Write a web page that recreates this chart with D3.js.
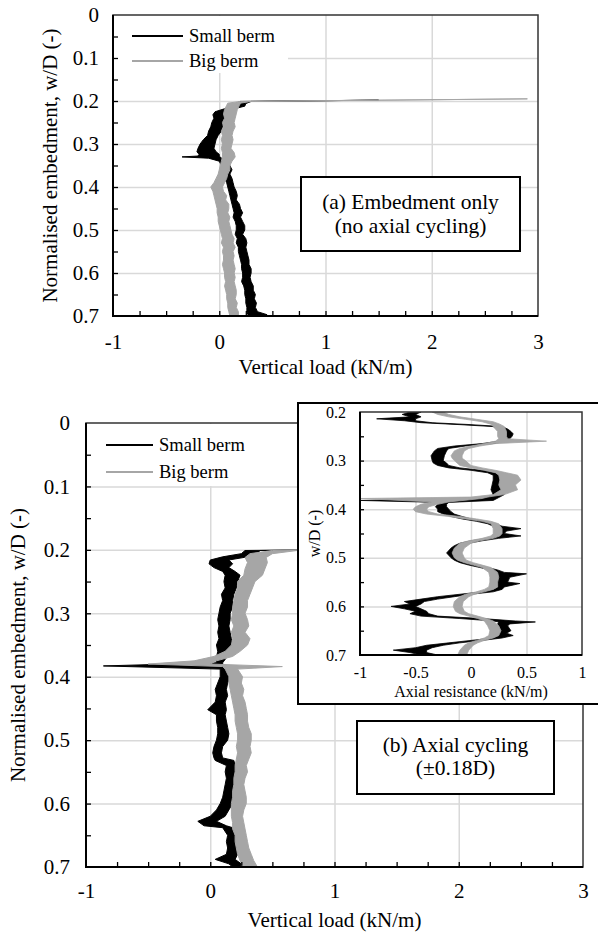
<!DOCTYPE html>
<html>
<head>
<meta charset="utf-8">
<script src="https://cdn.jsdelivr.net/npm/d3@7"></script>
<style>
  body { margin: 0; background: #fff; }
  svg, svg text { font-family: "Liberation Serif", "Times New Roman", Times, serif; }
</style>
</head>
<body>
<svg id="chart" width="598" height="936" font-family="Liberation Serif, serif"></svg>
<script>
// Each trace is a noisy band: [w/D, left edge, right edge]

// (a) Embedment only
const embedSmall = [
  [0.198, 1.5, 1.5], [0.201, 0.2, 0.3], [0.206, 0.15, 0.25], [0.212, 0.12, 0.24],
  [0.218, 0.05, 0.14], [0.225, -0.04, 0.06], [0.232, -0.06, 0.05], [0.24, -0.05, 0.08],
  [0.25, -0.07, 0.04], [0.26, -0.08, 0.03], [0.27, -0.1, 0.02], [0.28, -0.11, -0.01],
  [0.29, -0.15, -0.03], [0.30, -0.18, -0.04], [0.31, -0.2, -0.05], [0.318, -0.21, -0.03],
  [0.324, -0.19, 0.0], [0.328, -0.2, 0.0], [0.33, -0.35, 0.01], [0.333, -0.1, 0.02],
  [0.34, 0.0, 0.08], [0.35, 0.02, 0.1], [0.36, 0.03, 0.12], [0.37, 0.02, 0.1],
  [0.38, 0.05, 0.12], [0.39, 0.07, 0.13], [0.40, 0.08, 0.14], [0.41, 0.09, 0.16],
  [0.42, 0.1, 0.17], [0.43, 0.11, 0.16], [0.44, 0.12, 0.19], [0.45, 0.13, 0.2],
  [0.46, 0.14, 0.22], [0.47, 0.13, 0.2], [0.48, 0.15, 0.22], [0.49, 0.16, 0.24],
  [0.50, 0.16, 0.24], [0.51, 0.15, 0.22], [0.52, 0.17, 0.25], [0.53, 0.16, 0.26],
  [0.54, 0.18, 0.25], [0.55, 0.18, 0.26], [0.56, 0.19, 0.27], [0.57, 0.2, 0.28],
  [0.58, 0.21, 0.28], [0.59, 0.21, 0.3], [0.60, 0.22, 0.3], [0.61, 0.22, 0.29],
  [0.62, 0.21, 0.3], [0.63, 0.23, 0.32], [0.64, 0.24, 0.32], [0.65, 0.24, 0.34],
  [0.66, 0.25, 0.33], [0.67, 0.25, 0.35], [0.68, 0.26, 0.34], [0.69, 0.26, 0.36],
  [0.697, 0.27, 0.45], [0.7, 0.28, 0.34]
];
const embedBig = [
  [0.195, 2.9, 2.9], [0.201, 0.2, 0.3], [0.205, 0.08, 0.2], [0.21, 0.07, 0.19],
  [0.22, 0.05, 0.17], [0.23, 0.04, 0.16], [0.24, 0.05, 0.15], [0.25, 0.03, 0.14],
  [0.26, 0.04, 0.15], [0.27, 0.02, 0.13], [0.28, 0.03, 0.12], [0.29, 0.02, 0.13],
  [0.30, 0.03, 0.12], [0.31, 0.02, 0.11], [0.32, 0.03, 0.14], [0.33, 0.03, 0.15],
  [0.34, 0.02, 0.12], [0.35, 0.01, 0.1], [0.36, 0.0, 0.1], [0.37, -0.01, 0.08],
  [0.38, -0.03, 0.07], [0.39, -0.05, 0.05], [0.40, -0.08, 0.03], [0.41, -0.06, 0.04],
  [0.42, -0.05, 0.07], [0.43, -0.04, 0.06], [0.44, -0.03, 0.09], [0.45, -0.02, 0.09],
  [0.46, -0.02, 0.08], [0.47, -0.01, 0.1], [0.48, -0.01, 0.09], [0.49, 0.0, 0.1],
  [0.50, 0.01, 0.11], [0.51, 0.02, 0.12], [0.52, 0.03, 0.14], [0.53, 0.02, 0.13],
  [0.54, 0.04, 0.15], [0.55, 0.03, 0.13], [0.56, 0.04, 0.14], [0.57, 0.04, 0.13],
  [0.58, 0.03, 0.14], [0.59, 0.04, 0.15], [0.60, 0.05, 0.14], [0.61, 0.05, 0.15],
  [0.62, 0.06, 0.14], [0.63, 0.05, 0.15], [0.64, 0.06, 0.16], [0.65, 0.07, 0.16],
  [0.66, 0.07, 0.15], [0.67, 0.08, 0.17], [0.68, 0.08, 0.16], [0.69, 0.09, 0.18],
  [0.7, 0.1, 0.18]
];

// (b) Axial cycling - vertical load
const cycleSmall = [
  [0.199, 1.5, 1.5], [0.201, 0.28, 0.4], [0.206, 0.25, 0.38], [0.211, 0.1, 0.3],
  [0.216, 0.0, 0.15], [0.222, -0.01, 0.18], [0.228, 0.03, 0.15], [0.234, 0.1, 0.2],
  [0.24, 0.12, 0.24], [0.25, 0.11, 0.22], [0.26, 0.12, 0.21], [0.27, 0.09, 0.19],
  [0.28, 0.1, 0.18], [0.29, 0.08, 0.18], [0.30, 0.07, 0.16], [0.31, 0.06, 0.16],
  [0.32, 0.07, 0.15], [0.33, 0.06, 0.16], [0.34, 0.07, 0.17], [0.35, 0.05, 0.18],
  [0.36, 0.06, 0.14], [0.37, 0.05, 0.13], [0.378, 0.05, 0.1], [0.383, -0.86, 0.1],
  [0.388, 0.08, 0.15], [0.40, 0.08, 0.16], [0.41, 0.06, 0.14], [0.42, 0.04, 0.13],
  [0.43, 0.05, 0.14], [0.44, 0.04, 0.12], [0.452, -0.02, 0.13], [0.46, 0.05, 0.12],
  [0.47, 0.05, 0.13], [0.48, 0.06, 0.14], [0.49, 0.06, 0.15], [0.50, 0.05, 0.14],
  [0.51, 0.03, 0.1], [0.52, 0.02, 0.09], [0.528, 0.03, 0.1], [0.532, 0.04, 0.19],
  [0.54, 0.13, 0.2], [0.55, 0.12, 0.21], [0.56, 0.13, 0.2], [0.57, 0.12, 0.19],
  [0.58, 0.11, 0.2], [0.59, 0.1, 0.2], [0.60, 0.08, 0.18], [0.61, 0.05, 0.15],
  [0.62, 0.0, 0.12], [0.628, -0.1, 0.05], [0.635, -0.05, 0.13], [0.638, 0.1, 0.18],
  [0.65, 0.14, 0.2], [0.66, 0.13, 0.21], [0.67, 0.14, 0.22], [0.68, 0.13, 0.22],
  [0.688, 0.04, 0.2], [0.695, 0.15, 0.25], [0.7, 0.18, 0.24]
];
const cycleBig = [
  [0.196, 1.5, 1.5], [0.201, 0.5, 0.7], [0.206, 0.32, 0.5], [0.212, 0.28, 0.45],
  [0.22, 0.3, 0.46], [0.23, 0.28, 0.44], [0.24, 0.27, 0.42], [0.25, 0.22, 0.36],
  [0.26, 0.22, 0.34], [0.27, 0.2, 0.32], [0.28, 0.19, 0.3], [0.29, 0.18, 0.3],
  [0.30, 0.18, 0.28], [0.31, 0.17, 0.3], [0.32, 0.19, 0.31], [0.33, 0.17, 0.28],
  [0.34, 0.18, 0.32], [0.35, 0.17, 0.3], [0.36, 0.12, 0.24], [0.368, 0.03, 0.18],
  [0.375, -0.13, 0.05], [0.38, -0.5, 0.0], [0.384, 0.1, 0.58], [0.388, 0.12, 0.22],
  [0.40, 0.15, 0.26], [0.41, 0.15, 0.25], [0.42, 0.16, 0.27], [0.43, 0.17, 0.26],
  [0.44, 0.18, 0.28], [0.45, 0.19, 0.29], [0.46, 0.2, 0.3], [0.47, 0.2, 0.3],
  [0.48, 0.21, 0.31], [0.49, 0.22, 0.33], [0.50, 0.22, 0.33], [0.51, 0.21, 0.32],
  [0.52, 0.22, 0.33], [0.53, 0.21, 0.31], [0.54, 0.2, 0.29], [0.55, 0.2, 0.3],
  [0.56, 0.19, 0.28], [0.57, 0.19, 0.27], [0.58, 0.18, 0.28], [0.59, 0.18, 0.29],
  [0.60, 0.17, 0.29], [0.61, 0.17, 0.27], [0.62, 0.17, 0.26], [0.63, 0.18, 0.27],
  [0.64, 0.18, 0.28], [0.65, 0.2, 0.29], [0.66, 0.2, 0.3], [0.67, 0.21, 0.31],
  [0.68, 0.22, 0.33], [0.69, 0.24, 0.35], [0.7, 0.27, 0.38]
];

// (b) inset - axial resistance
const axialSmall = [
  [0.2, -0.55, -0.45], [0.205, -0.62, -0.5], [0.21, -0.55, -0.45], [0.214, -0.85, -0.5],
  [0.218, -0.6, -0.5], [0.222, -0.45, -0.35], [0.226, -0.1, 0.0], [0.23, 0.2, 0.28],
  [0.235, 0.25, 0.33], [0.24, 0.26, 0.36], [0.245, 0.27, 0.38], [0.25, 0.28, 0.37],
  [0.255, 0.26, 0.35], [0.26, 0.25, 0.33], [0.265, 0.1, 0.2], [0.27, -0.15, -0.05],
  [0.275, -0.3, -0.2], [0.28, -0.33, -0.22], [0.29, -0.36, -0.24], [0.3, -0.35, -0.25],
  [0.305, -0.34, -0.22], [0.31, -0.3, -0.2], [0.315, -0.2, -0.1], [0.32, 0.0, 0.1],
  [0.325, 0.15, 0.22], [0.33, 0.2, 0.28], [0.34, 0.2, 0.33], [0.35, 0.19, 0.3],
  [0.36, 0.18, 0.3], [0.37, 0.2, 0.3], [0.376, 0.15, 0.25], [0.382, -1.0, 0.2],
  [0.386, -0.3, -0.2], [0.39, -0.3, -0.22], [0.395, -0.32, -0.22], [0.40, -0.3, -0.2],
  [0.405, -0.3, -0.18], [0.41, -0.25, -0.15], [0.415, -0.18, -0.08], [0.42, -0.08, 0.0],
  [0.425, 0.05, 0.12], [0.43, 0.15, 0.22], [0.435, 0.2, 0.28], [0.44, 0.22, 0.45],
  [0.445, 0.23, 0.32], [0.45, 0.22, 0.3], [0.455, 0.22, 0.45], [0.46, 0.15, 0.25],
  [0.465, 0.0, 0.1], [0.47, -0.1, -0.02], [0.475, -0.15, -0.08], [0.48, -0.18, -0.1],
  [0.49, -0.22, -0.1], [0.5, -0.18, -0.1], [0.505, -0.15, -0.08], [0.51, -0.1, -0.02],
  [0.515, -0.02, 0.05], [0.52, 0.08, 0.15], [0.525, 0.17, 0.24], [0.53, 0.22, 0.3],
  [0.533, 0.22, 0.5], [0.54, 0.24, 0.35], [0.55, 0.23, 0.33], [0.553, 0.22, 0.44],
  [0.56, 0.24, 0.3], [0.565, 0.2, 0.28], [0.57, 0.1, 0.2], [0.575, -0.1, 0.0],
  [0.58, -0.3, -0.15], [0.585, -0.45, -0.3], [0.59, -0.6, -0.42], [0.595, -0.55, -0.45],
  [0.6, -0.72, -0.5], [0.605, -0.6, -0.45], [0.61, -0.5, -0.4], [0.615, -0.55, -0.38],
  [0.62, -0.45, -0.3], [0.625, -0.1, 0.1], [0.63, 0.2, 0.4], [0.632, 0.25, 0.58],
  [0.636, 0.24, 0.35], [0.64, 0.25, 0.33], [0.65, 0.22, 0.36], [0.655, 0.24, 0.32],
  [0.66, 0.25, 0.38], [0.665, 0.2, 0.28], [0.67, 0.0, 0.1], [0.675, -0.2, -0.1],
  [0.68, -0.4, -0.25], [0.685, -0.5, -0.35], [0.69, -0.7, -0.4], [0.695, -0.55, -0.4],
  [0.7, -0.45, -0.3]
];
const axialBig = [
  [0.2, -0.35, -0.25], [0.205, -0.3, -0.2], [0.21, -0.2, -0.1], [0.215, -0.05, 0.05],
  [0.22, 0.1, 0.2], [0.225, 0.18, 0.26], [0.23, 0.2, 0.3], [0.24, 0.24, 0.32],
  [0.25, 0.24, 0.32], [0.255, 0.25, 0.33], [0.26, 0.22, 0.68], [0.265, 0.12, 0.22],
  [0.27, 0.0, 0.08], [0.275, -0.1, -0.02], [0.28, -0.15, -0.06], [0.29, -0.18, -0.08],
  [0.295, -0.17, -0.08], [0.3, -0.15, -0.05], [0.31, -0.1, 0.0], [0.315, 0.0, 0.1],
  [0.32, 0.12, 0.22], [0.325, 0.22, 0.32], [0.33, 0.25, 0.42], [0.34, 0.26, 0.45],
  [0.35, 0.25, 0.4], [0.36, 0.27, 0.42], [0.37, 0.2, 0.3], [0.375, 0.0, 0.15],
  [0.378, -1.0, 0.1], [0.385, -0.35, -0.2], [0.39, -0.45, -0.3], [0.395, -0.5, -0.38],
  [0.4, -0.52, -0.4], [0.405, -0.5, -0.38], [0.41, -0.4, -0.3], [0.415, -0.2, -0.1],
  [0.42, -0.05, 0.05], [0.425, 0.1, 0.18], [0.43, 0.18, 0.25], [0.44, 0.2, 0.28],
  [0.45, 0.2, 0.28], [0.455, 0.18, 0.26], [0.46, 0.1, 0.2], [0.465, -0.02, 0.08],
  [0.47, -0.1, 0.0], [0.48, -0.15, -0.06], [0.49, -0.17, -0.08], [0.5, -0.15, -0.06],
  [0.505, -0.12, -0.04], [0.51, -0.06, 0.02], [0.515, 0.02, 0.1], [0.52, 0.1, 0.18],
  [0.53, 0.16, 0.24], [0.54, 0.17, 0.25], [0.55, 0.17, 0.24], [0.56, 0.16, 0.24],
  [0.565, 0.12, 0.2], [0.57, 0.05, 0.12], [0.575, -0.05, 0.03], [0.58, -0.1, -0.02],
  [0.59, -0.15, -0.07], [0.6, -0.16, -0.08], [0.61, -0.14, -0.06], [0.615, -0.1, -0.02],
  [0.62, -0.02, 0.06], [0.625, 0.06, 0.14], [0.63, 0.12, 0.2], [0.64, 0.15, 0.25],
  [0.65, 0.17, 0.27], [0.66, 0.16, 0.25], [0.665, 0.12, 0.2], [0.67, 0.05, 0.12],
  [0.675, -0.02, 0.06], [0.68, -0.06, 0.02], [0.69, -0.1, -0.02], [0.7, -0.12, -0.04]
];

// Tick values
const loadTicks = [-1, 0, 1, 2, 3];
const depthTicks = [0, 0.1, 0.2, 0.3, 0.4, 0.5, 0.6, 0.7];
const axialTicks = [-1, -0.5, 0, 0.5, 1];
const insetDepthTicks = [0.2, 0.3, 0.4, 0.5, 0.6, 0.7];
const seriesNames = ["Small berm", "Big berm"];
const seriesColors = ["#000000", "#a6a6a6"];

const FONT = "'Liberation Serif', 'Times New Roman', serif";

const svg = d3.select("#chart");
svg.append("rect").attr("width", 598).attr("height", 936).attr("fill", "#fff");

let clipId = 0;

// give axis groups the serif face instead of d3's sans-serif default
function plain(a) {
  a.attr("font-family", FONT).attr("font-size", null);
  a.select(".domain").remove();
}

function addText(g, size) {
  return g.append("text").attr("font-family", FONT).attr("font-size", size).attr("fill", "#000");
}

function drawPanel(p) {
  let g = svg.append("g").attr("font-family", FONT);
  let x = d3.scaleLinear().domain(p.xDomain).range([p.left, p.right]);
  let y = d3.scaleLinear().domain(p.yDomain).range([p.top, p.bottom]);
  let w = p.right - p.left;
  let h = p.bottom - p.top;

  // Grid
  g.append("g")
    .attr("transform", "translate(0," + p.top + ")")
    .call(d3.axisBottom(x).tickValues(p.xTicks.slice(1, -1)).tickSize(h).tickFormat(""))
    .call(plain)
    .call(a => a.selectAll("line").attr("stroke", "#d9d9d9").attr("stroke-width", 1.5));
  g.append("g")
    .attr("transform", "translate(" + p.left + ",0)")
    .call(d3.axisRight(y).tickValues(p.yTicks.slice(1, -1)).tickSize(w).tickFormat(""))
    .call(plain)
    .call(a => a.selectAll("line").attr("stroke", "#d9d9d9").attr("stroke-width", 1.5));

  // Legend background
  if (p.legend) {
    g.append("rect")
      .attr("x", p.left + 1).attr("y", p.top + 1)
      .attr("width", p.legend.bgW).attr("height", p.legend.bgH)
      .attr("fill", "#fff");
  }

  // Series bands
  let id = "clip" + (clipId++);
  g.append("clipPath").attr("id", id).append("rect")
    .attr("x", p.left).attr("y", p.top).attr("width", w).attr("height", h);
  let band = d3.area()
    .y(d => y(d[0]))
    .x0(d => x(d[1]))
    .x1(d => x(d[2]));
  p.series.forEach((s, i) => {
    g.append("path")
      .datum(s)
      .attr("clip-path", "url(#" + id + ")")
      .attr("d", band)
      .attr("fill", seriesColors[i])
      .attr("stroke", seriesColors[i])
      .attr("stroke-width", p.lineW)
      .attr("stroke-linejoin", "round");
  });

  // Minor ticks (inward)
  if (p.xMinor) {
    g.append("g")
      .attr("transform", "translate(0," + p.bottom + ")")
      .call(d3.axisBottom(x).tickValues(p.xMinor).tickSize(-p.tickLen).tickFormat(""))
      .call(plain)
      .call(a => a.selectAll("line").attr("stroke", "#000").attr("stroke-width", 1.3));
  }
  if (p.yMinor) {
    g.append("g")
      .attr("transform", "translate(" + p.left + ",0)")
      .call(d3.axisLeft(y).tickValues(p.yMinor).tickSize(-p.tickLen).tickFormat(""))
      .call(plain)
      .call(a => a.selectAll("line").attr("stroke", "#000").attr("stroke-width", 1.3));
  }

  // Plot border
  g.append("rect")
    .attr("x", p.left).attr("y", p.top).attr("width", w).attr("height", h)
    .attr("fill", "none").attr("stroke", "#333").attr("stroke-width", 1.5);
  g.append("path")
    .attr("d", "M" + p.left + "," + p.top + "V" + p.bottom + "H" + p.right)
    .attr("fill", "none").attr("stroke", "#000").attr("stroke-width", 2);

  // Tick labels
  g.append("g")
    .attr("transform", "translate(0," + p.bottom + ")")
    .call(d3.axisBottom(x).tickValues(p.xTicks).tickSize(0).tickPadding(p.xPad).tickFormat(d => String(d)))
    .call(plain)
    .call(a => a.selectAll("text").attr("font-family", FONT).attr("font-size", p.font).attr("fill", "#000"));
  g.append("g")
    .attr("transform", "translate(" + p.left + ",0)")
    .call(d3.axisLeft(y).tickValues(p.yTicks).tickSize(0).tickPadding(p.yPad).tickFormat(d => String(d)))
    .call(plain)
    .call(a => a.selectAll("text").attr("font-family", FONT).attr("font-size", p.font).attr("fill", "#000"));

  // Axis titles
  addText(g, p.font)
    .attr("x", (p.left + p.right) / 2).attr("y", p.xTitleY)
    .attr("text-anchor", "middle")
    .text(p.xTitle);
  addText(g, p.font)
    .attr("transform", "translate(" + p.yTitleX + "," + ((p.top + p.bottom) / 2) + ") rotate(-90)")
    .attr("text-anchor", "middle")
    .text(p.yTitle);

  // Legend
  if (p.legend) {
    let L = p.legend;
    seriesNames.forEach((name, i) => {
      let ly = L.y + i * L.gap;
      g.append("line")
        .attr("x1", L.x).attr("x2", L.x + L.len).attr("y1", ly).attr("y2", ly)
        .attr("stroke", seriesColors[i]).attr("stroke-width", 2);
      addText(g, L.font)
        .attr("x", L.x + L.len + 6).attr("y", ly).attr("dy", "0.33em")
        .text(name);
    });
  }

  // Annotation box
  if (p.note) {
    let N = p.note;
    g.append("rect")
      .attr("x", N.x).attr("y", N.y).attr("width", N.w).attr("height", N.h)
      .attr("fill", "#fff").attr("stroke", "#000").attr("stroke-width", 2);
    N.lines.forEach((t, i) => {
      addText(g, N.font)
        .attr("x", N.x + N.w / 2).attr("y", N.base + i * N.lineGap)
        .attr("text-anchor", "middle")
        .text(t);
    });
  }
}

// (a)
drawPanel({
  left: 113, right: 538, top: 15, bottom: 316,
  xDomain: [-1, 3], yDomain: [0, 0.7],
  xTicks: loadTicks, yTicks: depthTicks,
  xMinor: d3.range(-0.75, 3, 0.25), yMinor: d3.range(0.05, 0.7, 0.05),
  tickLen: 5, lineW: 1, font: 21, xPad: 18, yPad: 14,
  xTitle: "Vertical load (kN/m)", xTitleY: 374,
  yTitle: "Normalised embedment, w/D (-)", yTitleX: 57,
  series: [embedSmall, embedBig],
  legend: { x: 132, y: 36, gap: 25, len: 51, font: 18.5, bgW: 174, bgH: 57 },
  note: { x: 301, y: 177, w: 219, h: 74, base: 209, lineGap: 24, font: 21.5,
          lines: ["(a) Embedment only", "(no axial cycling)"] }
});

// (b)
drawPanel({
  left: 86, right: 583, top: 423, bottom: 867,
  xDomain: [-1, 3], yDomain: [0, 0.7],
  xTicks: loadTicks, yTicks: depthTicks,
  xMinor: d3.range(-0.75, 3, 0.25), yMinor: d3.range(0.05, 0.7, 0.05),
  tickLen: 5, lineW: 1, font: 21, xPad: 16, yPad: 16,
  xTitle: "Vertical load (kN/m)", xTitleY: 927,
  yTitle: "Normalised embedment, w/D (-)", yTitleX: 25,
  series: [cycleSmall, cycleBig],
  legend: { x: 106, y: 445, gap: 27, len: 47, font: 18.5, bgW: 165, bgH: 62 },
  note: { x: 357, y: 721, w: 197, h: 73, base: 752, lineGap: 23, font: 21.5,
          lines: ["(b) Axial cycling", "(±0.18D)"] }
});

// Inset frame
svg.append("rect")
  .attr("x", 298).attr("y", 403).attr("width", 320).attr("height", 301)
  .attr("fill", "#fff").attr("stroke", "#000").attr("stroke-width", 2);

drawPanel({
  left: 360, right: 582, top: 412, bottom: 655,
  xDomain: [-1, 1], yDomain: [0.2, 0.7],
  xTicks: axialTicks, yTicks: insetDepthTicks,
  xMinor: null, yMinor: d3.range(0.25, 0.7, 0.05),
  tickLen: 4, lineW: 0.8, font: 16, xPad: 12, yPad: 14,
  xTitle: "Axial resistance (kN/m)", xTitleY: 697,
  yTitle: "w/D (-)", yTitleX: 320,
  series: [axialSmall, axialBig]
});
</script>
</body>
</html>
